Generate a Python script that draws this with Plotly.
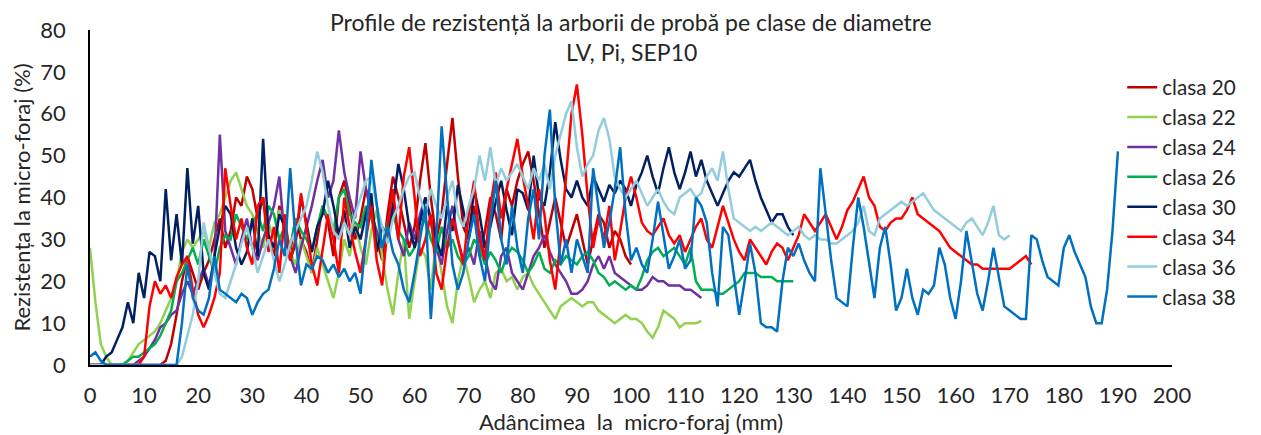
import plotly.graph_objects as go

# depth step of the profiles (mm)
STEP_MM = 1

clasa_20 = [0,0,0,0,0,0,0,0,0,0,
            0,0,0,0,1,5,12,20,26,22,
            18,22,25,30,35,28,32,40,38,45,
            42,35,40,30,26,38,32,27,35,30,
            27,22,30,38,34,26,40,44,38,30,
            35,42,38,30,25,36,45,40,34,28,
            33,44,53,40,30,36,48,59,45,33,
            30,38,26,32,40,36,30,42,38,44,
            48,51,44,36,28,34,40,34,28,32,
            36,30,24,30,36,34,28,32,30,26,
            24]

clasa_22 = [28,15,5,2,0,0,0,1,3,5,
            6,7,8,10,13,16,20,27,30,28,
            30,32,28,34,36,40,44,46,42,38,
            36,32,28,34,30,37,33,27,24,30,
            26,22,28,24,20,16,22,30,26,34,
            28,24,32,37,26,18,12,22,30,11,
            20,28,26,18,30,22,14,10,20,26,
            21,15,18,20,16,22,23,20,21,18,
            21,22,19,17,15,13,11,14,15,16,
            15,14,15,15,13,12,11,10,11,12,
            11,11,10,8,6.5,9,13,12,11,9,
            10,10,10,10.5]

clasa_24 = [0,0,0,0,0,0,0,0,0,1,
            2,4,6,9,10,12,13,17,20,17,
            20,23,19,25,55,32,28,24,30,35,
            28,25,30,34,38,45,30,26,22,28,
            33,38,44,49,40,44,56,46,40,35,
            51,42,36,32,28,34,38,30,26,34,
            30,36,40,34,28,24,32,38,30,25,
            28,24,32,26,20,18,26,28,22,20,
            18,22,26,28,31,27,24,22,20,17,
            17,18,20,24,26,23,26,22,21,20,
            19,18,18,19,21,20,20,19,19,19,
            18,18,17,16]

clasa_26 = [0,0,0,0,0,0,0,1,2,2,
            3,4,5,7,10,13,20,22,25,28,
            24,30,26,22,28,31,30,36,33,30,
            34,36,32,38,36,30,33,28,35,32,
            30,27,33,38,35,32,40,42,36,34,
            33,38,35,30,28,34,36,32,30,26,
            28,32,35,30,27,33,28,30,26,24,
            26,30,28,24,27,25,22,26,28,27,
            25,22,24,27,23,22,25,24,26,25,
            24,26,27,25,22,21,19,20,19,18,
            19,18,21,25,27,28,26,27,28,26,
            24,28,20,18,18,18,17,17,18,19,
            20,22,22,22,21,21,21,20,20,20,
            20]

clasa_30 = [0,0,0,2,3,6,9,15,10,22,
            16,27,26,20,42,25,36,24,47,29,
            38,22,18,26,33,38,36,28,24,27,
            35,26,54,31,28,36,33,25,29,40,
            34,27,33,36,44,38,31,37,28,33,
            30,36,41,27,33,30,38,48,42,33,
            28,34,40,35,30,26,38,32,43,37,
            30,42,36,28,33,39,44,37,31,42,
            41,37,50,40,38,46,58,49,42,40,
            44,40,38,45,42,39,43,41,44,42,
            38,43,46,50,45,41,47,52,46,42,
            46,51,45,49,44,41,38,41,44,46,
            45,47,49,44,40,37,34,36,36,33,
            31]

clasa_34 = [0,0,0,0,0,0,0,0,0,0,
            2,14,20,17,19,16,21,24,26,18,
            12,9,12,16,22,47,38,30,35,28,
            24,38,40,27,33,22,36,25,30,41,
            33,24,19,28,36,30,22,40,33,27,
            22,30,38,25,19,33,42,30,45,52,
            40,26,30,36,22,18,28,35,30,24,
            36,44,30,25,38,46,35,42,48,54,
            45,38,30,42,36,25,18,30,45,60,
            67,55,40,28,35,30,38,25,32,40,
            45,40,34,32,31,33,35,31,29,31,
            27,30,33,35,30,28,33,38,34,30,
            27,25,30,28,26,24,27,29,28,25,
            28,31,36,34,32,34,36,33,30,33,
            37,39,42,45,40,38,33,32,34,35,
            35,37,40,36,35,34,33,32,30,28,
            27,26,25,24,24,23,23,23,23,23,
            23,24,25,26,24]

clasa_36 = [0,0,0,0,0,0,0,0,0,0,
            0,0,0,0,0,0,0,2,7,12,
            20,34,28,22,17,16,20,24,29,33,
            28,22,26,30,25,20,24,29,32,35,
            38,44,51,46,38,32,30,34,31,36,
            40,44,45,38,33,29,35,38,42,45,
            46,40,36,42,38,35,40,44,36,33,
            38,42,50,44,52,43,47,44,46,48,
            45,42,47,44,48,42,50,55,60,63,
            52,45,48,50,56,59,54,45,42,40,
            42,44,41,38,40,42,39,37,36,40,
            41,42,40,41,45,47,44,51,42,35,
            34,33,32,33,32,33,34,33,32,31,
            32,33,31,30,31,30,30,29,29,30,
            31,32,34,38,32,31,35,36,37,38,
            39,38,39,40,41,39,37,36,35,34,
            33,32,34,35,33,31,34,38,31,30,
            31]

clasa_38 = [2,3,1,0,0,0,0,0,0,0,
            0,0,0,0,0,0,0,10,24,16,
            13,12,16,26,18,17,16,15,17,16,
            12,15,17,18,23,30,26,47,30,19,
            24,23,26,25,22,24,21,23,20,22,
            17,30,49,38,28,33,27,24,18,15,
            22,30,38,11,30,57,40,24,18,22,
            30,36,26,20,34,44,30,24,38,28,
            22,35,42,30,50,61,38,24,30,22,
            30,26,22,47,38,28,34,42,52,36,
            25,28,24,22,30,39,31,23,26,30,
            23,25,40,38,34,22,14,33,31,22,
            12,20,29,22,10,9,9,8,20,28,
            26,29,25,22,20,47,36,25,16,15,
            14,28,40,33,24,16,28,33,24,13,
            16,23,16,12,18,17,19,28,24,16,
            11,20,32,24,17,13,20,28,21,14,
            13,12,11,11,31,30,25,21,20,19,
            28,31,27,24,21,14,10,10,18,32,
            51]

series_names = ["clasa 20", "clasa 22", "clasa 24", "clasa 26",
                "clasa 30", "clasa 34", "clasa 36", "clasa 38"]
series_values = [clasa_20, clasa_22, clasa_24, clasa_26,
                 clasa_30, clasa_34, clasa_36, clasa_38]
series_colors = ["#C00000", "#92D050", "#7030A0", "#00B050",
                 "#002060", "#FF0000", "#93CDDD", "#0070C0"]

x_ticks = list(range(0, 201, 10))
y_ticks = list(range(0, 81, 10))

title_line1 = "Profile de rezistență la arborii de probă pe clase de diametre"
title_line2 = "LV, Pi, SEP10"

fig = go.Figure()
for name, vals, col in zip(series_names, series_values, series_colors):
    depth = [i * STEP_MM for i in range(len(vals))]
    fig.add_trace(go.Scatter(x=depth, y=vals, mode="lines", name=name,
                             line=dict(color=col, width=2.5)))

FONT = "Lato"
TXT = "#262626"
# the page body adds an 8 px offset, so the figure is 8 px smaller than the window
fig.update_layout(
    width=1253, height=427,
    margin=dict(l=82, r=89, t=22, b=70, autoexpand=False),
    paper_bgcolor="white", plot_bgcolor="white",
    font=dict(family=FONT, size=22, color=TXT),
    showlegend=True,
    legend=dict(x=0.954, y=0.889, xanchor="left", yanchor="top",
                bgcolor="rgba(0,0,0,0)",
                font=dict(family=FONT, size=20.7, color=TXT)),
    xaxis=dict(range=[0, 200], tickvals=x_ticks, ticktext=[str(v) for v in x_ticks],
               showgrid=False, zeroline=False, showline=True, linecolor="#000000",
               linewidth=1.5, ticks="", automargin=False, ticklabelstandoff=10,
               tickfont=dict(size=22),
               title=dict(text="Adâncimea  la  micro-foraj (mm)", standoff=2,
                          font=dict(size=22))),
    yaxis=dict(range=[0, 80], tickvals=y_ticks, ticktext=[str(v) for v in y_ticks],
               showgrid=False, zeroline=False, showline=True, linecolor="#000000",
               linewidth=1.5, ticks="", automargin=False, ticklabelstandoff=18,
               tickfont=dict(size=22),
               title=dict(text="Rezistența la micro-foraj (%)", standoff=4,
                          font=dict(size=22))),
    annotations=[
        dict(text=title_line1, xref="paper", yref="paper", x=0.5, y=(365 - 22) / 335,
             xanchor="center", yanchor="middle", showarrow=False,
             font=dict(family=FONT, size=23, color=TXT)),
        dict(text=title_line2, xref="paper", yref="paper", x=0.5, y=(365 - 52) / 335,
             xanchor="center", yanchor="middle", showarrow=False,
             font=dict(family=FONT, size=23, color=TXT)),
    ],
)

fig.write_html("out.html")
